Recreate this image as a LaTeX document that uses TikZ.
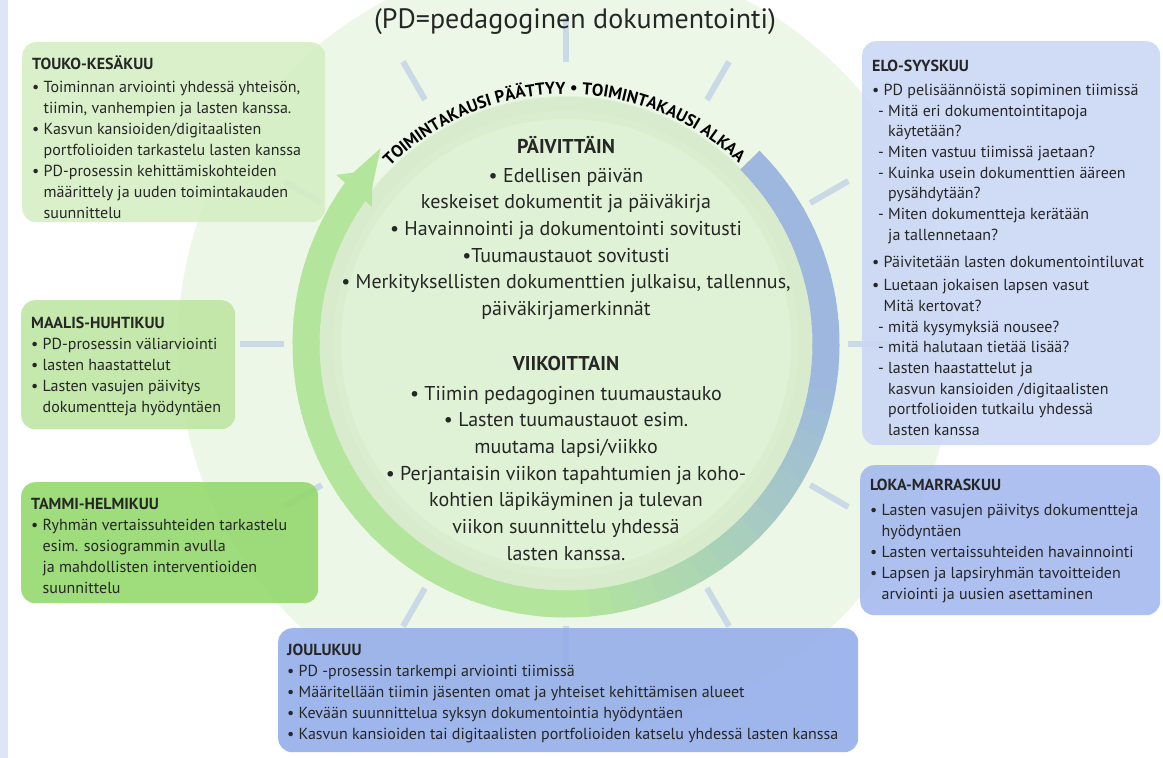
\documentclass[tikz,border=0pt]{standalone}
\usepackage{fontspec}
\setmainfont{PT Sans}
\usetikzlibrary{arrows.meta,decorations.text}

\definecolor{stripblue}{HTML}{DDE6F6}
\definecolor{diskpale}{HTML}{EDF7E7}
\definecolor{diskinner}{HTML}{E0F2D5}
\definecolor{diskshade}{HTML}{D3E8C8}
\definecolor{spokegray}{HTML}{C9D9E6}
\definecolor{ringgreen}{HTML}{B3E59C}
\definecolor{ringblue}{HTML}{9DB7DF}
\definecolor{toukofill}{HTML}{D5EFC3}
\definecolor{maalisfill}{HTML}{BDE5A1}
\definecolor{tammifill}{HTML}{92D86B}
\definecolor{elofill}{HTML}{CAD7F5}
\definecolor{lokafill}{HTML}{A2B8EE}
\definecolor{joulufill}{HTML}{92ACEA}
\definecolor{inktext}{HTML}{262626}

\newcommand{\bul}{•\ }
\newcommand{\ind}{\hphantom{•\ }}
\newcommand{\dsh}{\hspace{6pt}-\ }
\newcommand{\dind}{\hspace{6pt}\hphantom{-\ }}

\tikzset{
  monthbox/.style={rectangle, rounded corners=14pt, fill opacity=0.88, inner sep=0pt, anchor=north west},
  monthtext/.style={align=left, anchor=north west, inner sep=0pt, text=inktext, font=\fontsize{16}{21}\selectfont},
  centertext/.style={align=center, anchor=north, inner sep=0pt, text=inktext, font=\fontsize{20}{26.7}\selectfont},
  spoke/.style={spokegray, line width=6pt},
  ringline/.style={line width=27pt},
}

\begin{document}
\begin{tikzpicture}[x=1pt, y=1pt]
  \useasboundingbox (0,0) rectangle (1163,-758);
  \fill[white] (0,0) rectangle (1163,-758);
  \fill[stripblue] (0,0) rectangle (8,-758);

  % discs
  \coordinate (hub) at (566,-344);
  \begin{scope}
    \clip (0,0) rectangle (1163,-758);
    \fill[diskpale] (hub) circle (388pt);
  \end{scope}
  \fill[diskinner] (hub) circle (248pt);
  \draw[diskshade, line width=14pt, opacity=0.6] (hub) circle (240pt);
  \draw[diskshade, line width=8pt, opacity=0.4] (hub) circle (229pt);

  % spokes
  \foreach \ang in {0,30,...,330}
    \draw[spoke] (hub) ++(\ang:282pt) -- ++(\ang:44pt);

  % ring, blue to green
  \foreach \a in {45,40,...,-210} {
    \pgfmathsetmacro\p{min(100,max(0,(-5-\a)*1.25))}
    \draw[ringline, draw=ringgreen!\p!ringblue] (hub) ++(\a:260pt) arc[start angle=\a, end angle=\a-5.6, radius=260pt];
  }
  \draw[ringline, draw=ringgreen, -{Triangle[width=46pt,length=28pt]}] (hub) ++(-213:260pt) arc[start angle=-213, end angle=-222, radius=260pt];

  \path[decorate, decoration={text along path, text align=center,
      text={|\fontsize{17}{17}\selectfont\bfseries|TOIMINTAKAUSI PÄÄTTYY • TOIMINTAKAUSI ALKAA}}]
    (hub) ++(138:250pt) arc[start angle=138, end angle=43, radius=250pt];

  \node[font=\fontsize{28}{28}\selectfont, text=inktext] (title) at (575,-22) {(PD=pedagoginen dokumentointi)};

  % centre
  \node[centertext] (daily) at (566,-136) {\textbf{PÄIVITTÄIN}\\[2pt]
    • Edellisen päivän\\
    keskeiset dokumentit ja päiväkirja\\
    • Havainnointi ja dokumentointi sovitusti\\
    •Tuumaustauot sovitusti\\
    • Merkityksellisten dokumenttien julkaisu, tallennus,\\
    päiväkirjamerkinnät};
  \node[centertext] (weekly) at (566,-356) {\textbf{VIIKOITTAIN}\\[3pt]
    • Tiimin pedagoginen tuumaustauko\\
    • Lasten tuumaustauot esim.\\
    muutama lapsi/viikko\\
    • Perjantaisin viikon tapahtumien ja koho-\\
    kohtien läpikäyminen ja tulevan\\
    viikon suunnittelu yhdessä\\
    lasten kanssa.};

  % months
  \node[monthbox, fill=toukofill, minimum width=303pt, minimum height=180pt] (touko) at (22,-42) {};
  \node[monthtext] (toukotxt) at ([xshift=10pt,yshift=-14pt]touko.north west) {\textbf{TOUKO-KESÄKUU}\\[2pt]
    \bul Toiminnan arviointi yhdessä yhteisön,\\
    \ind tiimin, vanhempien ja lasten kanssa.\\
    \bul Kasvun kansioiden/digitaalisten\\
    \ind portfolioiden tarkastelu lasten kanssa\\
    \bul PD-prosessin kehittämiskohteiden\\
    \ind määrittely ja uuden toimintakauden\\
    \ind suunnittelu};

  \node[monthbox, fill=maalisfill, minimum width=214pt, minimum height=129pt] (maalis) at (21,-300) {};
  \node[monthtext] (maalistxt) at ([xshift=10pt,yshift=-17pt]maalis.north west) {\textbf{MAALIS-HUHTIKUU}\\
    \bul PD-prosessin väliarviointi\\
    \bul lasten haastattelut\\
    \bul Lasten vasujen päivitys\\
    \ind dokumentteja hyödyntäen};

  \node[monthbox, fill=tammifill, minimum width=297pt, minimum height=121pt] (tammi) at (21,-482) {};
  \node[monthtext] (tammitxt) at ([xshift=10pt,yshift=-16pt]tammi.north west) {\textbf{TAMMI-HELMIKUU}\\
    \bul Ryhmän vertaissuhteiden tarkastelu\\
    \ind esim. sosiogrammin avulla\\
    \ind ja mahdollisten interventioiden\\
    \ind suunnittelu};

  \node[monthbox, fill=elofill, minimum width=298pt, minimum height=404pt] (elo) at (862,-41) {};
  \node[monthtext, font=\fontsize{16}{20.7}\selectfont] (elotxt) at ([xshift=10pt,yshift=-19pt]elo.north west) {\textbf{ELO-SYYSKUU}\\[3pt]
    \bul PD pelisäännöistä sopiminen tiimissä\\
    \dsh Mitä eri dokumentointitapoja\\
    \dind käytetään?\\
    \dsh Miten vastuu tiimissä jaetaan?\\
    \dsh Kuinka usein dokumenttien ääreen\\
    \dind pysähdytään?\\
    \dsh Miten dokumentteja kerätään\\
    \dind ja tallennetaan?\\[7pt]
    \bul Päivitetään lasten dokumentointiluvat\\[2pt]
    \bul Luetaan jokaisen lapsen vasut\\
    \ind Mitä kertovat?\\
    \dsh mitä kysymyksiä nousee?\\
    \dsh mitä halutaan tietää lisää?\\
    \dsh lasten haastattelut ja\\
    \dind kasvun kansioiden /digitaalisten\\
    \dind portfolioiden tutkailu yhdessä\\
    \dind lasten kanssa};

  \node[monthbox, fill=lokafill, minimum width=300pt, minimum height=150pt] (loka) at (860,-465) {};
  \node[monthtext] (lokatxt) at ([xshift=10pt,yshift=-14pt]loka.north west) {\textbf{LOKA-MARRASKUU}\\[3.5pt]
    \bul Lasten vasujen päivitys dokumentteja\\
    \ind hyödyntäen\\
    \bul Lasten vertaissuhteiden havainnointi\\
    \bul Lapsen ja lapsiryhmän tavoitteiden\\
    \ind arviointi ja uusien asettaminen};

  \node[monthbox, fill=joulufill, minimum width=580pt, minimum height=124pt] (joulu) at (278,-628) {};
  \node[monthtext] (joulutxt) at ([xshift=9pt,yshift=-16pt]joulu.north west) {\textbf{JOULUKUU}\\
    \bul PD -prosessin tarkempi arviointi tiimissä\\
    \bul Määritellään tiimin jäsenten omat ja yhteiset kehittämisen alueet\\
    \bul Kevään suunnittelua syksyn dokumentointia hyödyntäen\\
    \bul Kasvun kansioiden tai digitaalisten portfolioiden katselu yhdessä lasten kanssa};
\end{tikzpicture}
\end{document}
